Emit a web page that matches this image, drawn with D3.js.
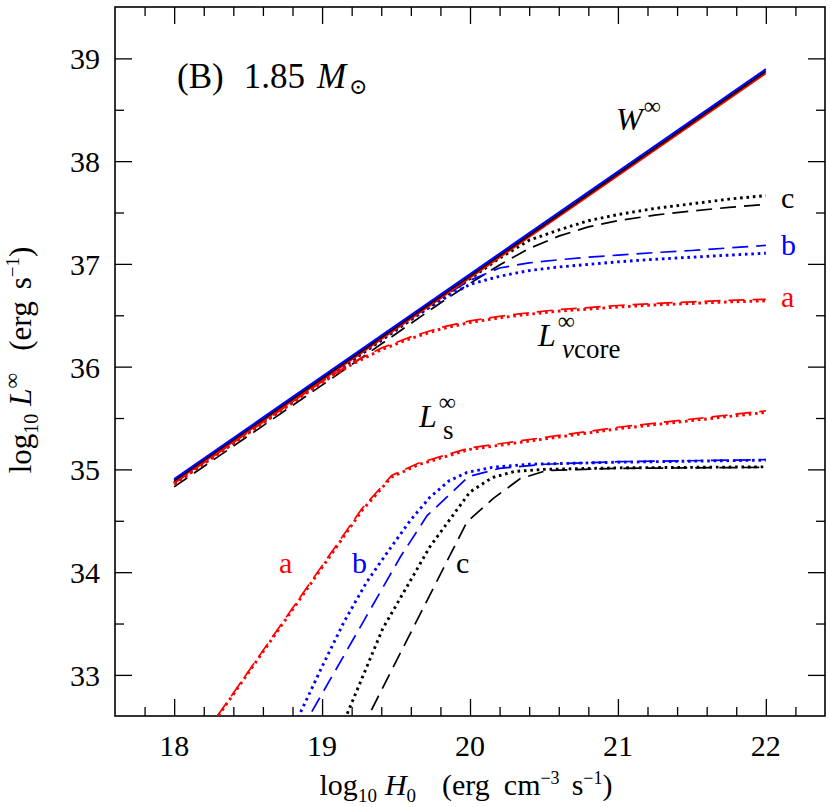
<!DOCTYPE html>
<html>
<head>
<meta charset="utf-8">
<script src="https://cdn.jsdelivr.net/npm/d3@7"></script>
<style>
  body { margin: 0; background: #fff; }
  svg text { font-family: "Liberation Serif", "DejaVu Serif", serif; }
</style>
</head>
<body>
<svg id="chart" width="830" height="807"></svg>
<script>
// W-infinity: three nearly coincident straight lines
var wX = [18, 22];
var wBlue = [34.905, 38.895];
var wBlack = [34.89, 38.875];
var wRed = [34.875, 38.855];

// L_nu core curves, shared abscissa
var coreX = [18, 18.5, 19, 19.2, 19.4, 19.6, 19.8, 20, 20.2, 20.4, 20.6, 20.8, 21, 21.25, 21.5, 21.75, 22];
var coreDashA = [34.865, 35.36, 35.855, 36.035, 36.18, 36.29, 36.38, 36.445, 36.49, 36.525, 36.555, 36.575, 36.595, 36.615, 36.63, 36.645, 36.655];
var coreDotA  = [34.855, 35.35, 35.845, 36.02, 36.165, 36.275, 36.365, 36.43, 36.475, 36.51, 36.54, 36.56, 36.58, 36.6, 36.615, 36.63, 36.64];
var coreDashB = [34.875, 35.37, 35.87, 36.07, 36.27, 36.47, 36.665, 36.84, 36.96, 37.01, 37.04, 37.065, 37.085, 37.11, 37.13, 37.155, 37.18];
var coreDotB  = [34.87, 35.365, 35.865, 36.065, 36.265, 36.46, 36.645, 36.8, 36.88, 36.935, 36.97, 36.995, 37.02, 37.045, 37.065, 37.085, 37.104];
var coreDashC = [34.83, 35.325, 35.82, 36.02, 36.22, 36.42, 36.62, 36.81, 36.99, 37.15, 37.27, 37.36, 37.42, 37.475, 37.515, 37.55, 37.578];
var coreDotC  = [34.86, 35.355, 35.855, 36.055, 36.255, 36.455, 36.655, 36.855, 37.055, 37.23, 37.33, 37.42, 37.48, 37.54, 37.585, 37.63, 37.665];

// L_s curves, [log H0, log L]
var surfDashA = [[18.2, 32.41], [19.27, 34.62], [19.47, 34.94], [19.65, 35.06], [20.0, 35.21], [20.5, 35.31], [21.0, 35.41], [21.5, 35.49], [22.0, 35.57]];
var surfDotA  = [[18.2, 32.40], [19.27, 34.60], [19.47, 34.925], [19.65, 35.045], [20.0, 35.195], [20.5, 35.295], [21.0, 35.395], [21.5, 35.475], [22.0, 35.555]];
var surfDashB = [[18.85, 32.44], [19.2, 33.32], [19.53, 34.15], [19.71, 34.55], [19.99, 34.93], [20.2, 35.01], [20.5, 35.05], [21, 35.075], [22, 35.095]];
var surfDotB  = [[18.8, 32.47], [19.0, 33.08], [19.15, 33.52], [19.3, 33.9], [19.45, 34.21], [19.6, 34.51], [19.73, 34.73], [19.86, 34.89], [19.98, 34.97], [20.15, 35.02], [20.4, 35.05], [21, 35.07], [22, 35.09]];
var surfDashC = [[19.26, 32.45], [19.98, 34.49], [20.16, 34.72], [20.34, 34.91], [20.52, 34.99], [21, 35.01], [22, 35.02]];
var surfDotC  = [[19.12, 32.45], [19.41, 33.45], [19.73, 34.25], [20.0, 34.78], [20.15, 34.92], [20.3, 34.98], [20.5, 35.0], [21, 35.015], [22, 35.025]];

var xMajor = [18, 19, 20, 21, 22];
var yMajor = [33, 34, 35, 36, 37, 38, 39];

var svg = d3.select("#chart");
var mLeft = 115, mRight = 825, mTop = 7, mBottom = 716;

var x = d3.scaleLinear().domain([17.6, 22.4]).range([mLeft, mRight]);
var y = d3.scaleLinear().domain([32.6, 39.5]).range([mBottom, mTop]);

var xMinor = d3.range(17.6, 22.41, 0.2).map(function(v) { return +v.toFixed(1); })
  .filter(function(v) { return xMajor.indexOf(v) < 0 && v > 17.6 && v < 22.4; });
var yMinor = d3.range(32.5, 39.6, 0.5).filter(function(v) { return v % 1 != 0 && v > 32.6 && v < 39.5; });

svg.append("clipPath").attr("id", "plot-clip")
  .append("rect").attr("x", mLeft).attr("y", mTop).attr("width", mRight - mLeft).attr("height", mBottom - mTop);

// axes with inward ticks on all four sides
function ticks(axis, vals, size, tx, ty) {
  var g = svg.append("g").attr("transform", "translate(" + tx + "," + ty + ")")
    .call(axis.tickValues(vals).tickSize(size).tickSizeOuter(0).tickFormat(""));
  g.select(".domain").remove();
  g.selectAll(".tick line").attr("stroke", "#000").attr("stroke-width", 1.3);
  return g;
}
ticks(d3.axisBottom(x), xMajor, -17, 0, mBottom);
ticks(d3.axisBottom(x), xMinor, -9, 0, mBottom);
ticks(d3.axisTop(x), xMajor, -17, 0, mTop);
ticks(d3.axisTop(x), xMinor, -9, 0, mTop);
ticks(d3.axisLeft(y), yMajor, -17, mLeft, 0);
ticks(d3.axisLeft(y), yMinor, -9, mLeft, 0);
ticks(d3.axisRight(y), yMajor, -17, mRight, 0);
ticks(d3.axisRight(y), yMinor, -9, mRight, 0);

svg.append("rect").attr("x", mLeft).attr("y", mTop).attr("width", mRight - mLeft).attr("height", mBottom - mTop)
  .attr("fill", "none").attr("stroke", "#000").attr("stroke-width", 1.6);

// tick labels
svg.append("g").selectAll("text").data(xMajor).enter().append("text")
  .attr("x", function(d) { return x(d); }).attr("y", 756)
  .attr("text-anchor", "middle").attr("font-size", 30)
  .text(function(d) { return d; });
svg.append("g").selectAll("text").data(yMajor).enter().append("text")
  .attr("x", 100).attr("y", function(d) { return y(d) + 11; })
  .attr("text-anchor", "end").attr("font-size", 30)
  .text(function(d) { return d; });

// curves
var plot = svg.append("g").attr("clip-path", "url(#plot-clip)");
var line = d3.line().x(function(d) { return x(d[0]); }).y(function(d) { return y(d[1]); });
function zip(xs, ys) { return xs.map(function(v, i) { return [v, ys[i]]; }); }

var DASH = "16,8", DOT = "2.6,3.8";
function curve(pts, color, style) {
  var p = plot.append("path").attr("d", line(pts)).attr("fill", "none").attr("stroke", color);
  if (style == "dash") p.attr("stroke-width", 1.7).attr("stroke-dasharray", DASH);
  else if (style == "dot") p.attr("stroke-width", 2.9).attr("stroke-dasharray", DOT);
  else p.attr("stroke-width", 2);
}

curve(zip(coreX, coreDashC), "#000", "dash");
curve(zip(coreX, coreDotC), "#000", "dot");
curve(zip(coreX, coreDashB), "#0000ff", "dash");
curve(zip(coreX, coreDotB), "#0000ff", "dot");
curve(zip(coreX, coreDashA), "#ff0000", "dash");
curve(zip(coreX, coreDotA), "#ff0000", "dot");

curve(surfDashC, "#000", "dash");
curve(surfDotC, "#000", "dot");
curve(surfDashB, "#0000ff", "dash");
curve(surfDotB, "#0000ff", "dot");
curve(surfDashA, "#ff0000", "dash");
curve(surfDotA, "#ff0000", "dot");

curve(zip(wX, wRed), "#ff0000", "solid");
curve(zip(wX, wBlack), "#000", "solid");
curve(zip(wX, wBlue), "#0000ff", "solid");

// annotations
function label(tx, ty, size, color, parts) {
  var t = svg.append("text").attr("x", tx).attr("y", ty).attr("font-size", size).attr("fill", color);
  parts.forEach(function(p) {
    var s = t.append("tspan").text(p.t);
    if (p.i) s.attr("font-style", "italic");
    if (p.dy) s.attr("dy", p.dy);
    if (p.fs) s.attr("font-size", p.fs);
    if (p.dx) s.attr("dx", p.dx);
  });
  return t;
}

label(177, 88, 35, "#000", [{t: "(B)"}, {t: "1.85", dx: 20}, {t: "M", i: 1, dx: 12}, {t: "\u2299", fs: 22, dy: 6, dx: 3}]);
label(616, 130, 32, "#000", [{t: "W", i: 1}, {t: "\u221e", fs: 24, dy: -16, dx: 1}]);
label(538, 346, 32, "#000", [{t: "L", i: 1}, {t: "\u221e", fs: 24, dy: -17, dx: 2}]);
label(562, 358, 27, "#000", [{t: "\u03bd", i: 1}, {t: "core"}]);
label(419, 427, 32, "#000", [{t: "L", i: 1}, {t: "\u221e", fs: 24, dy: -17, dx: 2}]);
label(443, 439, 27, "#000", [{t: "s"}]);

label(781, 208, 30, "#000", [{t: "c"}]);
label(781, 255, 30, "#0000ff", [{t: "b"}]);
label(781, 307, 30, "#ff0000", [{t: "a"}]);
label(279, 573, 30, "#ff0000", [{t: "a"}]);
label(352, 573, 30, "#0000ff", [{t: "b"}]);
label(456, 573, 30, "#000", [{t: "c"}]);

// axis titles
label(466, 795, 30, "#000", [{t: "log"}, {t: "10", fs: 19, dy: 7}, {t: "H", i: 1, dy: -7, dx: 8}, {t: "0", fs: 19, dy: 7},
  {t: "(erg", dy: -7, dx: 26}, {t: "cm", dx: 14}, {t: "\u22123", fs: 18, dy: -11}, {t: "s", dy: 11, dx: 12}, {t: "\u22121", fs: 18, dy: -11}, {t: ")", dy: 11}])
  .attr("text-anchor", "middle");
label(0, 0, 31, "#000", [{t: "log"}, {t: "10", fs: 20, dy: 7}, {t: "L", i: 1, dy: -7, dx: 8}, {t: "\u221e", fs: 22, dy: -12},
  {t: "(erg", dy: 12, dx: 22}, {t: "s", dx: 12}, {t: "\u22121", fs: 19, dy: -12}, {t: ")", dy: 12}])
  .attr("text-anchor", "middle")
  .attr("transform", "translate(31,360) rotate(-90)");
</script>
</body>
</html>
